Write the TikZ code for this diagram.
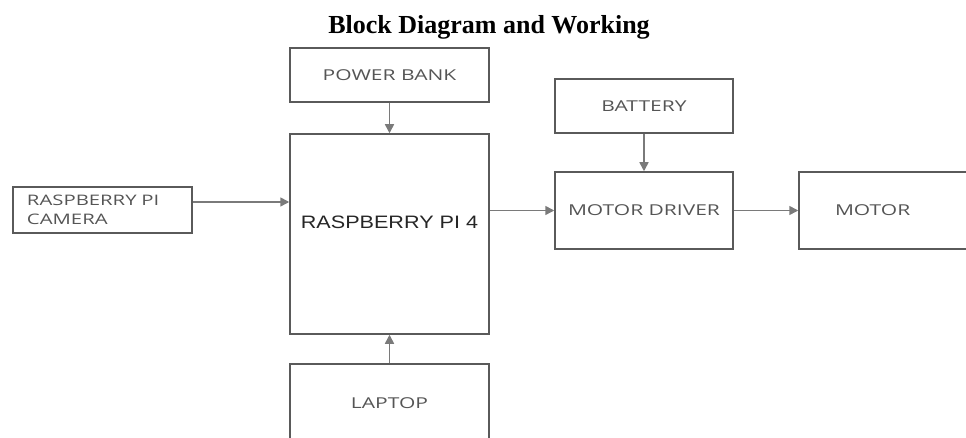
\documentclass[tikz,border=0pt]{standalone}
\usepackage{fontspec}
\usetikzlibrary{arrows.meta}
\setmainfont{Liberation Serif}
\newfontfamily\boxfont[FakeStretch=1.4]{Open Sans}
\newfontfamily\pifont[FakeStretch=1.2]{Liberation Sans}
\definecolor{edgegray}{HTML}{5A5A5A}
\definecolor{arrowgray}{HTML}{7A7A7A}
\definecolor{textgray}{HTML}{555555}
\tikzset{
    block/.style={
        draw=edgegray,
        line width=1.5pt,
        minimum width=178pt,
        minimum height=54pt,
        align=center,
        text=textgray,
        font=\boxfont\fontsize{15}{19}\selectfont
    },
    line/.style={
        -{Triangle[length=9pt,width=9pt]},
        line width=1.5pt,
        arrowgray
    }
}

\begin{document}
\begin{tikzpicture}[x=1pt,y=-1pt]
\clip (0,0) rectangle (966,438);

\node[font=\bfseries\fontsize{26}{30}\selectfont] (title) at (489,27) {Block Diagram and Working};

\node[block, minimum width=199pt] (pwr) at (389.5,75) {POWER BANK};
\node[block, minimum width=199pt, minimum height=200pt, text=black!85,
      font=\pifont\fontsize{18}{22}\selectfont, text depth=24pt] (pi) at (389.5,234) {RASPBERRY PI 4};
\node[block, minimum width=199pt, minimum height=110pt] (lap) at (389.5,419) {LAPTOP\\[12pt]};
\node[block, minimum width=179pt, minimum height=46pt, align=left,
      text width=151pt, inner xsep=14pt, font=\boxfont\fontsize{14.5}{19}\selectfont] (cam) at (102.5,210) {RASPBERRY PI\\CAMERA};
\node[block] (bat) at (644,106) {BATTERY};
\node[block, minimum height=77pt] (drv) at (644,210.5) {MOTOR DRIVER};
\node[block, minimum width=201pt, minimum height=77pt, align=left,
      text width=129pt, inner xsep=36pt] (mot) at (899.5,210.5) {MOTOR};

\foreach \a/\b in {pwr/pi, lap/pi, bat/drv, drv/mot}
    \draw[line] (\a) -- (\b);

\draw[line] ([yshift=8pt]cam.east) -- ([yshift=8pt]cam.east -| pi.west);
\draw[line] (drv.west -| pi.east) -- (drv.west);

\end{tikzpicture}
\end{document}
